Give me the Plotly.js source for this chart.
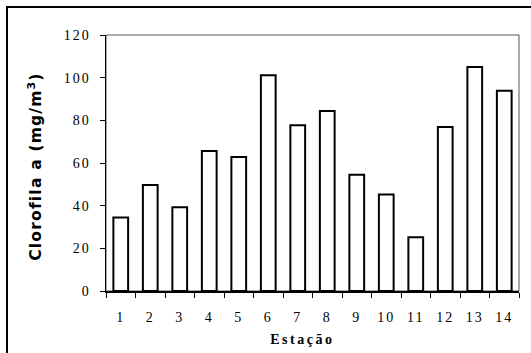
<!DOCTYPE html>
<html>
<head>
<meta charset="utf-8">
<script src="https://cdn.plot.ly/plotly-3.0.1.min.js"></script>
<style>
html,body{margin:0;padding:0;background:#fff;overflow:hidden;}
#wrap{position:relative;width:531px;height:353px;overflow:hidden;}
#chart{width:531px;height:353px;}
#ftop{position:absolute;left:6px;top:6px;width:525px;height:2px;background:#000;pointer-events:none;}
#fleft{position:absolute;left:6px;top:6px;width:2px;height:347px;background:#000;pointer-events:none;}
.xtick text, .ytick text{letter-spacing:2px;}
g.annotation[data-index="1"] text{letter-spacing:2.5px;}
g.annotation[data-index="0"] text{letter-spacing:1.2px;}
</style>
</head>
<body>
<div id="wrap"><div id="chart"></div><div id="ftop"></div><div id="fleft"></div></div>
<script>
const estacoes = ["1","2","3","4","5","6","7","8","9","10","11","12","13","14"];
const clorofila = [34.5, 49.7, 39.2, 65.6, 62.8, 101.1, 77.7, 84.4, 54.5, 45.2, 25.2, 76.9, 105, 93.9];
const yTicks = [0, 20, 40, 60, 80, 100, 120];

const serif = "Liberation Serif, Times New Roman, serif";

const trace = {
  type: "bar",
  x: estacoes,
  y: clorofila,
  marker: {color: "#ffffff", line: {color: "#000000", width: 2}},
  hoverinfo: "x+y"
};

const layout = {
  width: 531, height: 353,
  margin: {l: 106, r: 12, t: 35, b: 62},
  paper_bgcolor: "#ffffff", plot_bgcolor: "#ffffff",
  showlegend: false,
  bargap: 0.5,
  font: {family: serif, size: 14, color: "#000"},
  xaxis: {
    type: "category",
    tickson: "boundaries",
    ticks: "outside", ticklen: 5, tickcolor: "#000", tickwidth: 1,
    showline: true, linecolor: "#000", linewidth: 2,
    showgrid: false, zeroline: false,
    ticklabelstandoff: 12,
    tickfont: {family: serif, size: 14, color: "#000"}
  },
  yaxis: {
    range: [0, 120],
    tickvals: yTicks,
    ticks: "outside", ticklen: 5, tickcolor: "#000", tickwidth: 1,
    showline: true, linecolor: "#000", linewidth: 1.5,
    showgrid: false, zeroline: false,
    ticklabelstandoff: 6,
    tickfont: {family: serif, size: 14, color: "#000"}
  },
  shapes: [
    {type: "rect", xref: "paper", yref: "paper", x0: 0, x1: 1, y0: 0, y1: 1,
     line: {color: "#555", width: 1}, layer: "below"}
  ],
  annotations: [
    {xref: "paper", yref: "paper", x: -0.172, y: 0.488, xanchor: "center", yanchor: "middle",
     textangle: -90, showarrow: false,
     text: "Clorofila a (mg/m<sup>3</sup>)",
     font: {family: "DejaVu Sans, Arial, sans-serif", size: 15.5, color: "#000", weight: "bold"}},
    {xref: "paper", yref: "paper", x: 0.4746, y: -0.1875, xanchor: "center", yanchor: "middle",
     showarrow: false, text: "Estação",
     font: {family: serif, size: 14, color: "#000", weight: "bold"}}
  ]
};

Plotly.newPlot("chart", [trace], layout, {displayModeBar: false, staticPlot: true});
</script>
</body>
</html>
